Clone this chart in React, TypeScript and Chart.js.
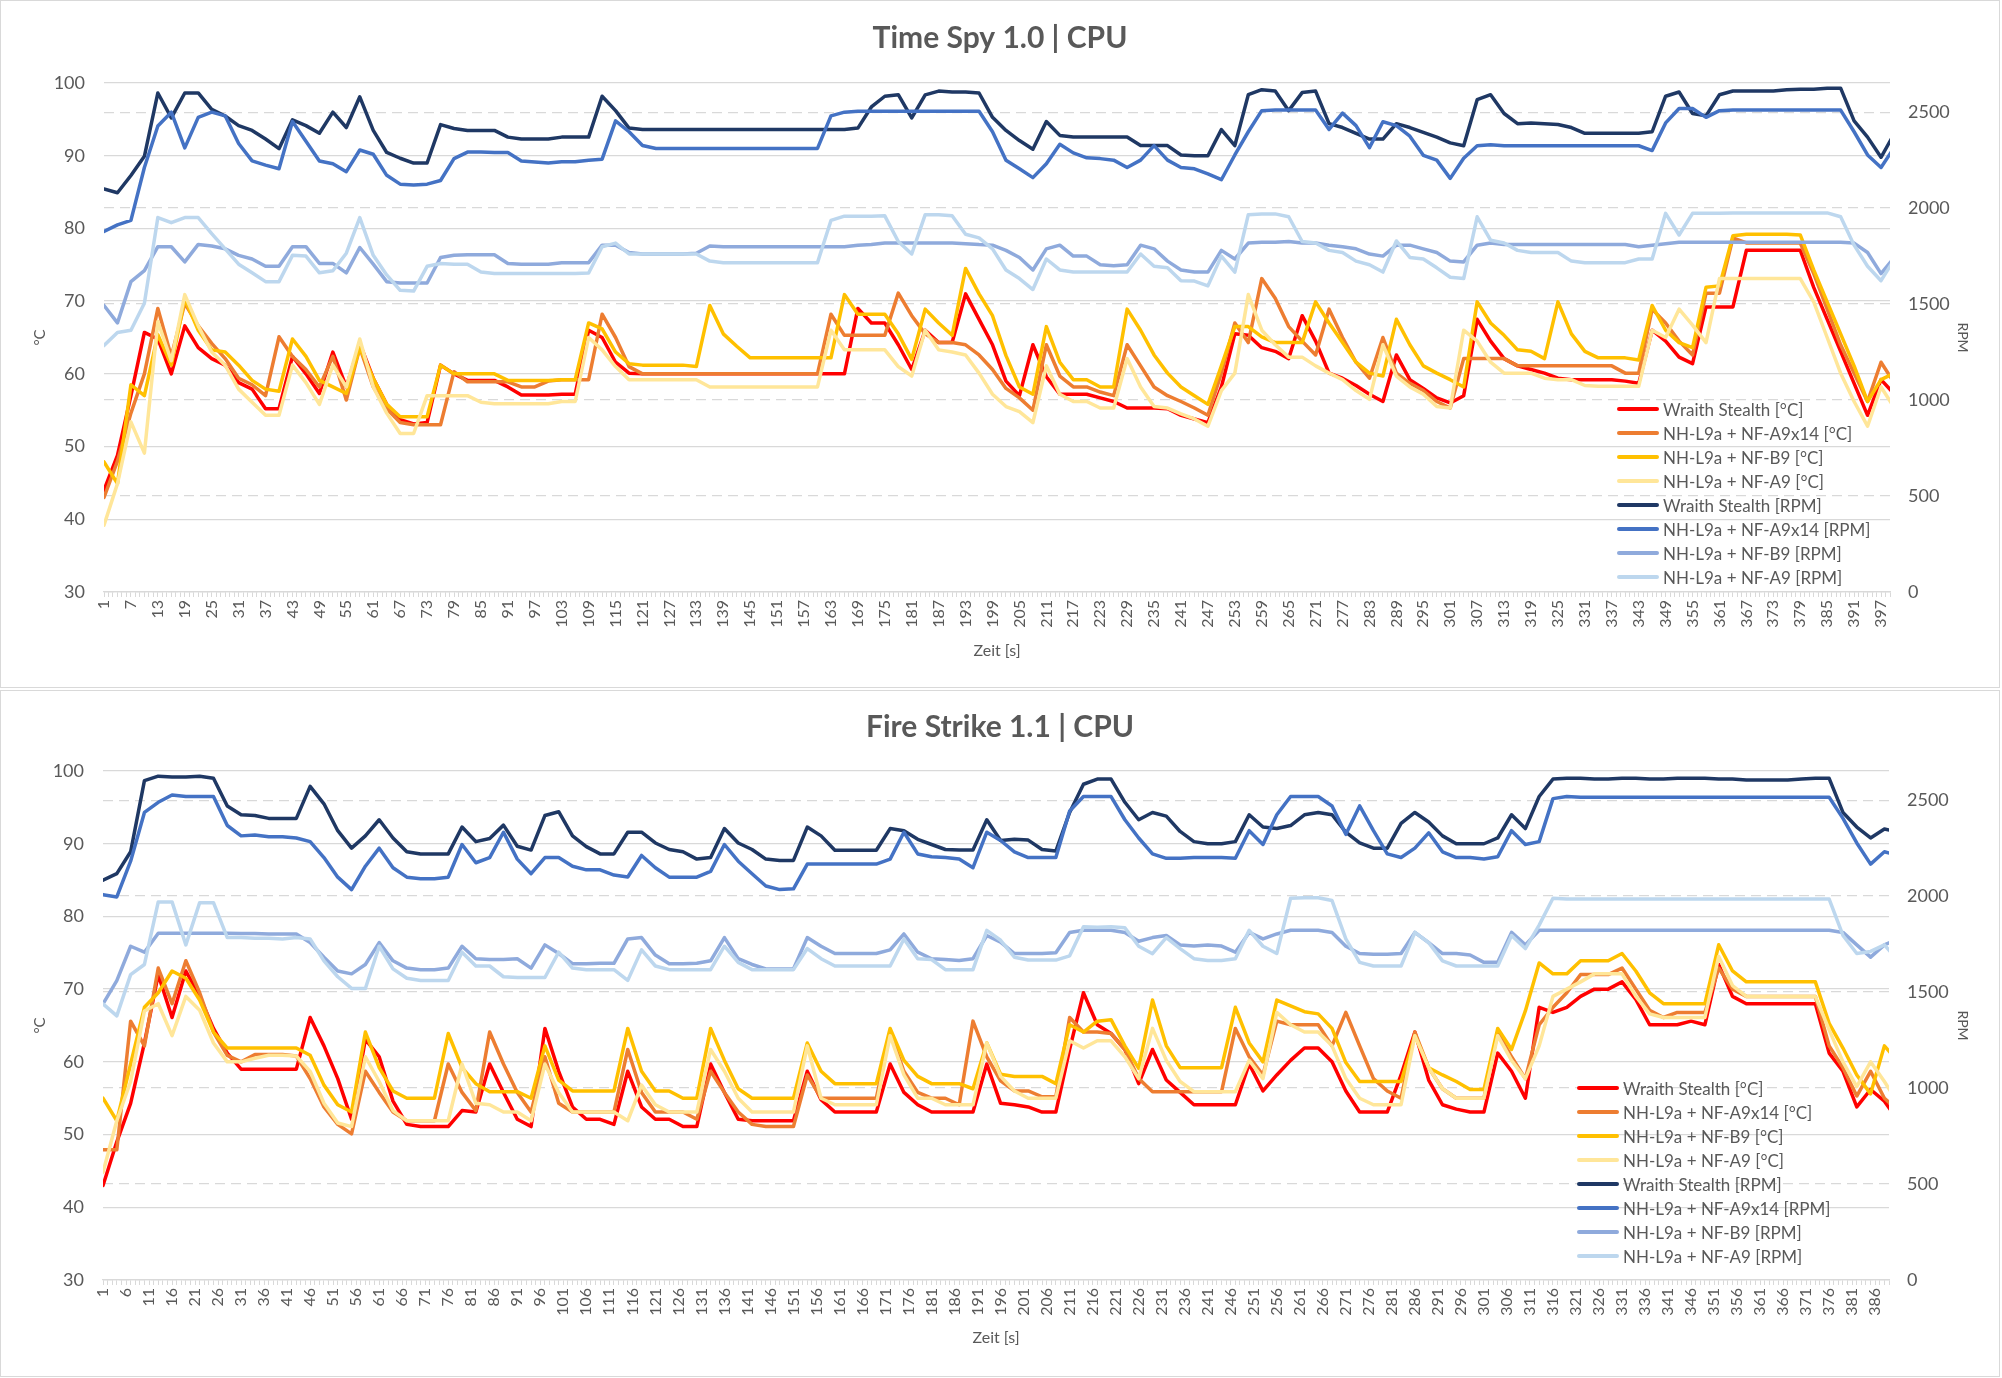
import { useEffect, useRef } from 'react';
import { Chart, registerables } from 'chart.js';

Chart.register(...registerables);

const FONT = 'Lato, "Open Sans", sans-serif';
const TEXT = '#595959';
const GRID = '#d9d9d9';

const seriesNames = [
  'Wraith Stealth [°C]',
  'NH-L9a + NF-A9x14 [°C]',
  'NH-L9a + NF-B9 [°C]',
  'NH-L9a + NF-A9 [°C]',
  'Wraith Stealth [RPM]',
  'NH-L9a + NF-A9x14 [RPM]',
  'NH-L9a + NF-B9 [RPM]',
  'NH-L9a + NF-A9 [RPM]',
];
const seriesColors = ['#ff0000', '#ed7d31', '#ffc000', '#ffe699', '#1f3864', '#4472c4', '#8faadc', '#bdd7ee'];

const tempTicks = [30, 40, 50, 60, 70, 80, 90, 100];
const rpmTicks = [0, 500, 1000, 1500, 2000, 2500];

// sampled every 3 s, starting at second 1
const sampleStep = 3;

// ---- Time Spy 1.0 | CPU ----
const tsWraithTemp = [
  44, 48.8, 57, 65.7, 64.8, 60, 66.6, 63.6, 62.1, 61.2,
  58.8, 57.9, 55.2, 55.2, 62.4, 60, 57.3, 63, 58.2, 64.2,
  59.4, 55.8, 53.7, 53.1, 53.3, 61.2, 60, 59.1, 59.1, 59.1,
  58.2, 57.1, 57.1, 57.1, 57.2, 57.2, 66, 65, 61.6, 60.1,
  60, 60, 60, 60, 60, 60, 60, 60, 60, 60,
  60, 60, 60, 60, 60, 60, 69, 67, 67, 64,
  60.6, 66, 64.3, 64.3, 71, 67.5, 64, 59, 57, 64,
  59.6, 57.2, 57.2, 57.2, 56.7, 56.2, 55.3, 55.3, 55.3, 55.2,
  54.3, 53.8, 53.3, 58.2, 65.5, 65.3, 63.6, 63.1, 62.1, 68,
  64.5, 60.1, 59.4, 58.4, 57.2, 56.2, 62.6, 59.2, 58, 56.7,
  56, 57, 67.5, 64.5, 62.1, 61.1, 60.6, 60.1, 59.4, 59.2,
  59.2, 59.2, 59.2, 59, 58.7, 66, 64.5, 62.3, 61.4, 69.2,
  69.2, 69.2, 77, 77, 77, 77, 77, 71.9, 67.5, 63.1,
  58.7, 54.3, 59.2, 57.2,
];
const tsA9x14Temp = [
  43, 48, 54.6, 60, 69, 62.4, 69.7, 66.6, 64.2, 62.1,
  59.4, 58.5, 57, 65.1, 62.4, 60.6, 58.2, 62.4, 56.4, 63.6,
  58.2, 55.2, 53.3, 53, 53, 53, 60.3, 58.9, 58.9, 58.9,
  58.9, 58.2, 58.2, 59, 59.2, 59.2, 59.2, 68.2, 65, 61,
  60, 60, 60, 60, 60, 60, 60, 60, 60, 60,
  60, 60, 60, 60, 68.2, 65.3, 65.3, 65.3, 65.3, 71.1,
  68, 65.5, 64.3, 64.3, 64, 62.6, 60.6, 58, 56.7, 55,
  64, 59.7, 58.2, 58.2, 57.5, 57, 64, 61.1, 58.2, 57,
  56.2, 55.3, 54.3, 60.1, 67, 64.3, 73.1, 70.4, 66.5, 64.5,
  62.6, 68.9, 65, 61.6, 59.4, 65, 60.1, 58.7, 57.7, 56.2,
  55.3, 62.1, 62.1, 62.1, 62.1, 61.1, 61.1, 61.1, 61.1, 61.1,
  61.1, 61.1, 61.1, 60.1, 60.1, 68.9, 67, 64.5, 62.6, 71.1,
  71.1, 78.7, 78, 78, 78, 78, 78, 73.8, 68.9, 64,
  60.1, 56.2, 61.6, 58.7,
];
const tsB9Temp = [
  47.9, 44.9, 58.5, 57, 65.4, 61.2, 70.3, 66, 63.3, 63,
  61.2, 59.1, 57.9, 57.6, 64.8, 62.4, 59.1, 58.2, 57.3, 63.6,
  59.4, 55.8, 54.1, 54.1, 54.1, 61.2, 60, 60, 60, 60,
  59.1, 59.1, 59.1, 59.1, 59.2, 59.2, 67, 66.2, 63, 61.4,
  61.2, 61.2, 61.2, 61.2, 61, 69.4, 65.5, 63.8, 62.2, 62.2,
  62.2, 62.2, 62.2, 62.2, 62.2, 70.9, 68.2, 68.2, 68.2, 65.5,
  62, 68.9, 67, 65.3, 74.5, 71, 68, 62.5, 58.2, 57.2,
  66.5, 61.6, 59.2, 59.2, 58.2, 58.2, 68.9, 66, 62.6, 60.1,
  58.2, 57, 55.8, 61.1, 66.5, 66.5, 65.1, 64.3, 64.3, 64.3,
  69.9, 67, 64.3, 61.6, 60.1, 59.7, 67.5, 64, 61.1, 60.1,
  59.2, 58.2, 69.9, 67, 65.3, 63.3, 63.1, 62.1, 69.9, 65.5,
  63.1, 62.2, 62.2, 62.2, 61.9, 69.4, 66, 64.3, 63.6, 71.9,
  72.1, 79, 79.2, 79.2, 79.2, 79.2, 79.1, 74.3, 69.9, 65.5,
  61.1, 56.2, 59.2, 60.1,
];
const tsA9Temp = [
  39.2, 44.9, 53.4, 49.1, 67.2, 61.8, 70.9, 66.6, 63, 61.2,
  57.9, 56.1, 54.3, 54.3, 61.2, 58.8, 55.8, 61.2, 58.2, 64.8,
  58.2, 54.6, 51.8, 51.8, 57, 57, 57, 57, 56.1, 55.9,
  55.9, 55.9, 55.9, 55.9, 56.2, 56.2, 65, 63.3, 61, 59.2,
  59.2, 59.2, 59.2, 59.2, 59.2, 58.2, 58.2, 58.2, 58.2, 58.2,
  58.2, 58.2, 58.2, 58.2, 66, 63.3, 63.3, 63.3, 63.3, 61,
  59.7, 66, 63.3, 63, 62.6, 60.1, 57.2, 55.5, 54.8, 53.3,
  61.1, 57.2, 56.2, 56.2, 55.3, 55.3, 62.1, 58.2, 55.5, 55.3,
  54.5, 53.8, 52.8, 57.7, 60.1, 70.9, 66, 64, 62.3, 62.3,
  61.1, 60.1, 59.2, 57.7, 56.5, 64, 59.7, 58.2, 57.2, 55.5,
  55.3, 66, 64.5, 61.6, 60.1, 60.1, 60.1, 59.4, 59.2, 59.2,
  58.4, 58.3, 58.3, 58.3, 58.3, 66, 65, 68.9, 66.7, 64.3,
  73.1, 73.1, 73.1, 73.1, 73.1, 73.1, 73.1, 69.9, 65, 60.1,
  56.2, 52.8, 58.2, 55.3,
];
const tsWraithRpm = [
  2100, 2080, 2170, 2270, 2600, 2470, 2600, 2600, 2515, 2480,
  2430, 2405, 2360, 2310, 2460, 2430, 2390, 2500, 2420, 2580,
  2405, 2290, 2260, 2235, 2235, 2435, 2415, 2405, 2405, 2405,
  2370, 2360, 2360, 2360, 2370, 2370, 2370, 2583, 2508, 2417,
  2410, 2410, 2410, 2410, 2410, 2410, 2410, 2410, 2410, 2410,
  2410, 2410, 2410, 2410, 2410, 2410, 2417, 2527, 2583, 2591,
  2470, 2590, 2610, 2605, 2605, 2600, 2473, 2405, 2352, 2307,
  2451, 2379, 2371, 2371, 2371, 2371, 2371, 2326, 2326, 2326,
  2277, 2273, 2273, 2409, 2326, 2591, 2617, 2610, 2508, 2602,
  2610, 2440, 2420, 2390, 2360, 2360, 2440, 2420, 2395, 2370,
  2340, 2325, 2565, 2591, 2493, 2440, 2444, 2440, 2436, 2420,
  2390, 2390, 2390, 2390, 2390, 2398, 2583, 2605, 2493, 2481,
  2591, 2610, 2610, 2610, 2610, 2617, 2620, 2620, 2625, 2625,
  2455, 2370, 2265, 2390,
];
const tsA9x14Rpm = [
  1879, 1913, 1936, 2212, 2428, 2500, 2314, 2473, 2500, 2481,
  2337, 2246, 2224, 2205, 2451, 2349, 2246, 2231, 2190, 2303,
  2281, 2171, 2125, 2121, 2125, 2144, 2258, 2292, 2292, 2290,
  2290, 2246, 2240, 2235, 2242, 2242, 2250, 2255, 2455, 2398,
  2326, 2311, 2311, 2311, 2311, 2311, 2311, 2311, 2311, 2311,
  2311, 2311, 2311, 2311, 2481, 2500, 2505, 2505, 2505, 2505,
  2505, 2505, 2505, 2505, 2505, 2505, 2398, 2250, 2205, 2159,
  2231, 2333, 2288, 2262, 2258, 2250, 2212, 2250, 2326, 2250,
  2212, 2205, 2178, 2148, 2277, 2398, 2508, 2511, 2511, 2511,
  2511, 2410, 2495, 2430, 2315, 2450, 2430, 2375, 2275, 2250,
  2155, 2260, 2325, 2330, 2325, 2325, 2325, 2325, 2325, 2325,
  2325, 2325, 2325, 2325, 2325, 2300, 2444, 2519, 2519, 2473,
  2508, 2511, 2511, 2511, 2511, 2511, 2511, 2511, 2511, 2511,
  2398, 2277, 2212, 2318,
];
const tsB9Rpm = [
  1493, 1402, 1617, 1674, 1799, 1799, 1720, 1811, 1803, 1788,
  1754, 1735, 1697, 1697, 1799, 1799, 1712, 1712, 1663, 1795,
  1708, 1617, 1610, 1610, 1610, 1743, 1754, 1757, 1757, 1757,
  1712, 1708, 1708, 1708, 1716, 1716, 1716, 1807, 1807, 1769,
  1761, 1761, 1761, 1761, 1765, 1803, 1799, 1799, 1799, 1799,
  1799, 1799, 1799, 1799, 1799, 1799, 1807, 1810, 1818, 1818,
  1818, 1818, 1818, 1818, 1815, 1810, 1807, 1780, 1743, 1678,
  1788, 1807, 1750, 1750, 1705, 1700, 1705, 1807, 1788, 1724,
  1678, 1667, 1667, 1780, 1735, 1818, 1822, 1822, 1826, 1818,
  1818, 1807, 1799, 1788, 1761, 1750, 1807, 1807, 1788, 1769,
  1724, 1720, 1807, 1818, 1811, 1811, 1811, 1811, 1811, 1811,
  1811, 1811, 1811, 1811, 1799, 1807, 1815, 1822, 1822, 1822,
  1822, 1822, 1822, 1822, 1822, 1822, 1822, 1822, 1822, 1822,
  1818, 1769, 1659, 1743,
];
const tsA9Rpm = [
  1284, 1352, 1364, 1504, 1951, 1924, 1951, 1951, 1867, 1788,
  1708, 1663, 1617, 1617, 1754, 1750, 1663, 1674, 1765, 1951,
  1754, 1652, 1572, 1568, 1697, 1712, 1708, 1708, 1667, 1659,
  1659, 1659, 1659, 1659, 1659, 1659, 1662, 1799, 1818, 1761,
  1761, 1761, 1761, 1761, 1761, 1724, 1716, 1716, 1716, 1716,
  1716, 1716, 1716, 1716, 1936, 1958, 1958, 1958, 1960, 1826,
  1761, 1966, 1966, 1960, 1864, 1845, 1788, 1678, 1633, 1576,
  1735, 1678, 1667, 1667, 1667, 1667, 1667, 1761, 1697, 1690,
  1622, 1620, 1595, 1750, 1667, 1966, 1970, 1970, 1955, 1826,
  1818, 1780, 1769, 1724, 1705, 1667, 1829, 1743, 1735, 1689,
  1640, 1633, 1955, 1833, 1818, 1780, 1769, 1769, 1769, 1724,
  1716, 1716, 1716, 1716, 1735, 1735, 1973, 1860, 1973, 1973,
  1973, 1975, 1975, 1975, 1975, 1975, 1975, 1975, 1975, 1955,
  1807, 1697, 1622, 1735,
];

// ---- Fire Strike 1.1 | CPU ----
const fsWraithTemp = [
  43, 49, 54.3, 62.6, 72, 66.1, 72.5, 69, 64.6, 61.2,
  59, 59, 59, 59, 59, 66.1, 62.2, 57.7, 52.1, 63.1,
  60.7, 54.6, 51.4, 51.1, 51.1, 51.1, 53.3, 53.1, 59.7, 55.8,
  52.1, 51.1, 64.6, 58.7, 53.8, 52.1, 52.1, 51.4, 58.7, 53.8,
  52.1, 52.1, 51.1, 51.1, 59.7, 55.8, 52.1, 51.9, 51.9, 51.9,
  51.9, 58.7, 54.8, 53.1, 53.1, 53.1, 53.1, 59.7, 55.8, 54.1,
  53.1, 53.1, 53.1, 53.1, 59.7, 54.3, 54.1, 53.8, 53.1, 53.1,
  61.7, 69.5, 65.1, 63.9, 61.7, 57, 61.7, 57.5, 55.8, 54.1,
  54.1, 54.1, 54.1, 59.7, 56, 58.2, 60.2, 61.9, 61.9, 60,
  56, 53.1, 53.1, 53.1, 58.2, 64.1, 57.5, 54.1, 53.5, 53.1,
  53.1, 61.2, 58.7, 55, 67.5, 66.8, 67.5, 69, 70, 70,
  71, 68.6, 65.1, 65.1, 65.1, 65.6, 65.1, 73.4, 69, 68,
  68, 68, 68, 68, 68, 61.2, 58.7, 53.8, 56.2, 54.6,
  51.9,
];
const fsA9x14Temp = [
  47.9, 47.9, 65.6, 62.2, 72.9, 68, 73.9, 69.5, 64.1, 60.9,
  60, 61, 61, 61, 60.8, 57.7, 53.8, 51.4, 50.1, 58.7,
  55.8, 53.1, 51.9, 51.9, 51.9, 59.7, 55.8, 53.3, 64.1, 59.7,
  55.8, 53.1, 60.7, 54.3, 53.1, 53.1, 53.1, 53.1, 61.7, 55.8,
  53.1, 53.1, 53.1, 52.1, 58.7, 55.8, 53.1, 51.4, 51.1, 51.1,
  51.1, 58.2, 55, 55, 55, 55, 55, 64.1, 58.7, 55.8,
  55, 55, 54.1, 65.6, 60.7, 57.4, 56, 56, 55.2, 55.2,
  66.1, 64.1, 64.1, 63.9, 61.7, 57.7, 55.9, 55.9, 55.9, 55.9,
  55.9, 55.9, 64.6, 60.7, 58.2, 65.6, 65.1, 65.1, 65.1, 62.2,
  66.8, 62.2, 57.7, 56, 55, 64.1, 59.2, 56.3, 55, 55,
  55, 64.1, 60.7, 57.7, 65.1, 67.5, 69.5, 72, 72, 72,
  72.9, 70, 67.1, 66.1, 66.8, 66.8, 66.8, 72.9, 70, 69,
  69, 69, 69, 69, 69, 62.2, 59.2, 55.3, 58.7, 55,
  53.3,
];
const fsB9Temp = [
  55, 51.9, 59.7, 67.5, 69.5, 72.5, 71.5, 68.5, 64.1, 61.9,
  61.9, 61.9, 61.9, 61.9, 61.9, 60.9, 56.8, 54.1, 53.1, 64.1,
  59.2, 56, 55, 55, 55, 63.9, 59.2, 57, 55.9, 55.9,
  55.9, 55, 62.2, 57.5, 56, 56, 56, 56, 64.6, 58.7,
  56, 56, 55, 55, 64.6, 60.2, 56.3, 55, 55, 55,
  55, 62.6, 58.7, 57, 57, 57, 57, 64.6, 60.2, 58,
  57, 57, 57, 56.3, 62.6, 58.3, 58, 58, 58, 57,
  65.1, 64.1, 65.6, 65.8, 62.2, 59.1, 68.5, 62.2, 59.2, 59.2,
  59.2, 59.2, 67.5, 62.6, 60, 68.5, 67.7, 66.9, 66.6, 64.6,
  59.9, 57.3, 57.3, 57.3, 57.3, 63.6, 59.2, 58.2, 57.3, 56.2,
  56.2, 64.6, 61.7, 67, 73.6, 72.1, 72.1, 73.9, 73.9, 73.9,
  74.9, 72.5, 69.5, 68, 68, 68, 68, 76.1, 72.5, 71,
  71, 71, 71, 71, 71, 65.3, 61.9, 58.2, 55.6, 62.2,
  60,
];
const fsA9Temp = [
  44.8, 51.9, 57.3, 67, 68, 63.6, 69, 67.1, 62.6, 60,
  60, 60.5, 60.9, 60.9, 60.8, 58.7, 54.3, 51.6, 51.1, 60.7,
  57.3, 53.3, 51.9, 51.9, 51.9, 51.9, 59.7, 54.3, 54.1, 53.1,
  53.1, 51.9, 59.7, 55.8, 53.1, 53.1, 53.1, 53.1, 51.9, 56.8,
  54.1, 53.1, 53.1, 53.1, 61.7, 58.7, 55, 53.1, 53.1, 53.1,
  53.1, 62.2, 55, 54.1, 54.1, 54.1, 54.1, 63.6, 58.2, 55,
  55, 54.1, 54.1, 54.1, 62.6, 58, 56, 55, 55, 55,
  62.9, 61.9, 62.9, 62.9, 60.7, 57.7, 64.6, 60.2, 57.3, 55.9,
  55.9, 55.9, 55.9, 60.2, 57.7, 66.8, 65.1, 64.1, 64.1, 62.2,
  57.7, 55, 54.1, 54.1, 54.1, 63.6, 59.2, 56.3, 55, 55,
  55, 63.6, 60.2, 57.7, 62.2, 69, 70, 71, 72.1, 72.1,
  72.1, 69, 66.6, 66.1, 66.1, 66.1, 66.1, 74.5, 70.5, 69,
  69, 69, 69, 69, 69, 64.4, 60, 56.6, 60, 57.3,
  54.3,
];
const fsWraithRpm = [
  2083, 2117, 2231, 2602, 2625, 2621, 2621, 2625, 2614, 2470,
  2424, 2420, 2405, 2405, 2405, 2572, 2481, 2341, 2250, 2314,
  2398, 2303, 2231, 2220, 2220, 2220, 2360, 2284, 2300, 2370,
  2260, 2240, 2420, 2440, 2314, 2258, 2220, 2220, 2333, 2333,
  2277, 2243, 2231, 2193, 2201, 2352, 2277, 2243, 2193, 2186,
  2186, 2360, 2314, 2239, 2239, 2239, 2239, 2352, 2341, 2296,
  2269, 2243, 2240, 2240, 2398, 2290, 2296, 2292, 2243, 2235,
  2436, 2583, 2610, 2610, 2489, 2398, 2436, 2417, 2337, 2284,
  2273, 2273, 2284, 2424, 2360, 2352, 2368, 2424, 2436, 2424,
  2333, 2277, 2250, 2250, 2379, 2436, 2386, 2314, 2273, 2273,
  2273, 2303, 2424, 2352, 2519, 2610, 2614, 2614, 2610, 2610,
  2614, 2614, 2610, 2610, 2614, 2614, 2614, 2610, 2610, 2605,
  2605, 2605, 2605, 2610, 2614, 2614, 2436, 2360, 2303, 2350,
  2333,
];
const fsA9x14Rpm = [
  2008, 1996, 2182, 2436, 2489, 2527, 2519, 2519, 2519, 2368,
  2314, 2318, 2310, 2310, 2303, 2284, 2201, 2099, 2034, 2156,
  2250, 2148, 2099, 2091, 2091, 2099, 2269, 2174, 2201, 2333,
  2193, 2117, 2201, 2201, 2156, 2137, 2137, 2110, 2100, 2212,
  2148, 2099, 2099, 2099, 2129, 2269, 2182, 2117, 2053, 2034,
  2038, 2167, 2167, 2167, 2167, 2167, 2167, 2193, 2333, 2220,
  2205, 2201, 2193, 2148, 2333, 2290, 2231, 2201, 2201, 2201,
  2444, 2519, 2519, 2519, 2398, 2303, 2220, 2197, 2197, 2201,
  2201, 2201, 2197, 2341, 2269, 2424, 2519, 2519, 2519, 2470,
  2322, 2470, 2341, 2220, 2201, 2250, 2330, 2231, 2201, 2201,
  2193, 2205, 2341, 2269, 2284, 2508, 2519, 2515, 2515, 2515,
  2515, 2515, 2515, 2515, 2515, 2515, 2515, 2515, 2515, 2515,
  2515, 2515, 2515, 2515, 2515, 2515, 2405, 2277, 2167, 2231,
  2212,
];
const fsB9Rpm = [
  1439, 1560, 1739, 1708, 1807, 1807, 1807, 1807, 1807, 1807,
  1805, 1805, 1803, 1803, 1803, 1758, 1682, 1610, 1595, 1644,
  1758, 1663, 1625, 1617, 1617, 1625, 1739, 1674, 1670, 1670,
  1674, 1625, 1746, 1701, 1648, 1648, 1650, 1650, 1777, 1784,
  1693, 1648, 1648, 1650, 1663, 1784, 1674, 1644, 1621, 1621,
  1621, 1784, 1739, 1701, 1701, 1701, 1701, 1720, 1803, 1708,
  1674, 1670, 1665, 1674, 1795, 1760, 1701, 1701, 1701, 1705,
  1811, 1822, 1822, 1822, 1811, 1765, 1784, 1795, 1746, 1740,
  1746, 1740, 1708, 1811, 1777, 1803, 1822, 1822, 1822, 1811,
  1739, 1701, 1697, 1697, 1701, 1811, 1758, 1701, 1701, 1693,
  1655, 1655, 1811, 1746, 1822, 1822, 1822, 1822, 1822, 1822,
  1822, 1822, 1822, 1822, 1822, 1822, 1822, 1822, 1822, 1822,
  1822, 1822, 1822, 1822, 1822, 1822, 1811, 1746, 1682, 1746,
  1777,
];
const fsA9Rpm = [
  1439, 1376, 1591, 1644, 1970, 1970, 1746, 1966, 1966, 1784,
  1784, 1780, 1780, 1777, 1784, 1777, 1663, 1580, 1519, 1519,
  1739, 1621, 1572, 1561, 1561, 1561, 1708, 1636, 1636, 1580,
  1576, 1576, 1576, 1708, 1625, 1617, 1617, 1617, 1561, 1720,
  1636, 1617, 1617, 1617, 1617, 1739, 1655, 1617, 1617, 1617,
  1617, 1727, 1674, 1636, 1636, 1636, 1636, 1636, 1777, 1674,
  1670, 1617, 1617, 1617, 1822, 1770, 1682, 1667, 1667, 1667,
  1689, 1841, 1838, 1840, 1835, 1739, 1700, 1784, 1727, 1674,
  1665, 1665, 1674, 1822, 1739, 1701, 1989, 1992, 1992, 1977,
  1777, 1655, 1636, 1636, 1636, 1811, 1758, 1663, 1636, 1636,
  1636, 1636, 1795, 1727, 1849, 1989, 1985, 1985, 1985, 1985,
  1985, 1985, 1985, 1985, 1985, 1985, 1985, 1985, 1985, 1985,
  1985, 1985, 1985, 1985, 1985, 1985, 1795, 1701, 1712, 1746,
  1663,
];

interface PanelLayout {
  top: number;
  height: number;
  titleY: number;
  plotTop: number;
  plotBottom: number;
  plotLeft: number;
  plotRight: number;
  xTitleY: number;
  legendX: number;
  legendY: number;
}

interface PanelProps {
  title: string;
  temps: number[][];
  rpms: number[][];
  lastSecond: number;
  labelEvery: number;
  box: PanelLayout;
}

const WIDTH = 2000;

function ChartPanel({ title, temps, rpms, lastSecond, labelEvery, box }: PanelProps) {
  const canvasRef = useRef<HTMLCanvasElement>(null);

  useEffect(() => {
    if (!canvasRef.current) return;
    const all = [...temps, ...rpms];
    const datasets = all.map((values, i) => ({
      label: seriesNames[i],
      data: values.map((v, k) => ({ x: 1 + k * sampleStep, y: v })),
      yAxisID: i < 4 ? 'y' : 'y1',
      borderColor: seriesColors[i],
      backgroundColor: seriesColors[i],
      borderWidth: 3.5,
      pointRadius: 0,
      tension: 0,
      borderJoinStyle: 'round' as const,
      borderCapStyle: 'round' as const,
      order: all.length - i,
    }));

    const titleFont = 30;
    const titleLine = titleFont * 1.2;
    const padTop = box.titleY - titleLine / 2;
    const padBottom = box.plotTop - padTop - titleLine;
    const xAxisBottom = box.xTitleY + 9.6 + 4;

    const chart = new Chart(canvasRef.current, {
      type: 'line',
      data: { datasets },
      options: {
        animation: false,
        responsive: false,
        layout: { padding: { top: 0, left: 0, right: 0, bottom: box.height - xAxisBottom } },
        plugins: {
          legend: { display: false },
          tooltip: { enabled: false },
          title: {
            display: true,
            text: title,
            color: TEXT,
            font: { family: FONT, size: titleFont, weight: 'bold' },
            padding: { top: padTop, bottom: padBottom },
          },
        },
        scales: {
          x: {
            type: 'linear',
            min: 1,
            max: lastSecond,
            afterBuildTicks: (axis) => {
              axis.ticks = Array.from({ length: lastSecond }, (_, i) => ({ value: i + 1 }));
            },
            afterFit: (axis) => {
              axis.height = xAxisBottom - box.plotBottom;
            },
            ticks: {
              autoSkip: false,
              minRotation: 90,
              maxRotation: 90,
              padding: 3,
              color: TEXT,
              font: { family: FONT, size: 16 },
              callback: (v) => ((Number(v) - 1) % labelEvery === 0 ? String(v) : ''),
            },
            grid: { drawOnChartArea: false, drawTicks: true, tickLength: 5, color: GRID, lineWidth: 1 },
            border: { display: true, color: GRID, width: 1.3 },
            title: { display: true, text: 'Zeit [s]', color: TEXT, font: { family: FONT, size: 16 } },
          },
          y: {
            position: 'left',
            min: 30,
            max: 100,
            afterBuildTicks: (axis) => {
              axis.ticks = tempTicks.map((value) => ({ value }));
            },
            afterFit: (axis) => {
              axis.width = box.plotLeft;
            },
            ticks: {
              padding: 19,
              color: TEXT,
              font: { family: FONT, size: 18 },
              callback: (v) => String(v),
            },
            grid: { color: GRID, lineWidth: 1.3, drawTicks: false },
            border: { display: false },
            title: {
              display: true,
              text: '°C',
              color: TEXT,
              font: { family: FONT, size: 15 },
              padding: { top: 31, bottom: 0 },
            },
          },
          y1: {
            position: 'right',
            min: 0,
            max: 2652,
            afterBuildTicks: (axis) => {
              axis.ticks = rpmTicks.map((value) => ({ value }));
            },
            afterFit: (axis) => {
              axis.width = WIDTH - box.plotRight;
            },
            ticks: {
              padding: 18,
              color: TEXT,
              font: { family: FONT, size: 18 },
              callback: (v) => String(v),
            },
            grid: { color: GRID, lineWidth: 1.3, drawTicks: false },
            border: { display: false, dash: [10, 6] },
            title: {
              display: true,
              text: 'RPM',
              color: TEXT,
              font: { family: FONT, size: 14 },
              padding: { top: 29, bottom: 0 },
            },
          },
        },
      },
    });

    return () => {
      chart.destroy();
    };
  }, [title, temps, rpms, lastSecond, labelEvery, box]);

  return (
    <div
      style={{
        position: 'absolute',
        left: 0,
        top: box.top,
        width: WIDTH,
        height: box.height,
        background: '#fff',
      }}
    >
      <canvas ref={canvasRef} width={WIDTH} height={box.height} style={{ position: 'absolute', left: 0, top: 0 }} />
      <div
        style={{
          position: 'absolute',
          left: 0,
          top: 0,
          width: WIDTH - 2,
          height: box.height - 2,
          border: `1px solid ${GRID}`,
          pointerEvents: 'none',
        }}
      />
      {seriesNames.map((name, i) => (
        <div
          key={name}
          style={{
            position: 'absolute',
            left: box.legendX,
            top: box.legendY + i * 24 - 12,
            height: 24,
            display: 'flex',
            alignItems: 'center',
            whiteSpace: 'nowrap',
            fontFamily: FONT,
            fontSize: 17,
            color: TEXT,
          }}
        >
          <span
            style={{
              display: 'inline-block',
              width: 42,
              height: 4.5,
              background: seriesColors[i],
              borderRadius: 2,
              marginRight: 4,
            }}
          />
          {name}
        </div>
      ))}
    </div>
  );
}

const timeSpyBox: PanelLayout = {
  top: 0,
  height: 688,
  titleY: 38,
  plotTop: 83,
  plotBottom: 592,
  plotLeft: 104,
  plotRight: 1890,
  xTitleY: 651,
  legendX: 1617,
  legendY: 409,
};

const fireStrikeBox: PanelLayout = {
  top: 690,
  height: 687,
  titleY: 37,
  plotTop: 81,
  plotBottom: 590,
  plotLeft: 103,
  plotRight: 1889,
  xTitleY: 648,
  legendX: 1577,
  legendY: 398,
};

const timeSpyTemps = [tsWraithTemp, tsA9x14Temp, tsB9Temp, tsA9Temp];
const timeSpyRpms = [tsWraithRpm, tsA9x14Rpm, tsB9Rpm, tsA9Rpm];
const fireStrikeTemps = [fsWraithTemp, fsA9x14Temp, fsB9Temp, fsA9Temp];
const fireStrikeRpms = [fsWraithRpm, fsA9x14Rpm, fsB9Rpm, fsA9Rpm];

export default function App() {
  return (
    <div style={{ position: 'absolute', left: 0, top: 0, width: 2002, height: 1378, background: '#fff' }}>
      <ChartPanel
        title="Time Spy 1.0 | CPU"
        temps={timeSpyTemps}
        rpms={timeSpyRpms}
        lastSecond={399}
        labelEvery={6}
        box={timeSpyBox}
      />
      <ChartPanel
        title="Fire Strike 1.1 | CPU"
        temps={fireStrikeTemps}
        rpms={fireStrikeRpms}
        lastSecond={389}
        labelEvery={5}
        box={fireStrikeBox}
      />
    </div>
  );
}
